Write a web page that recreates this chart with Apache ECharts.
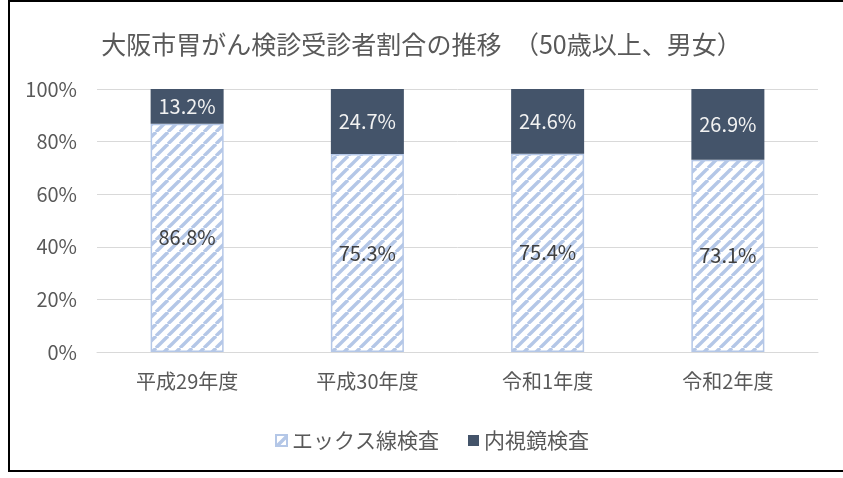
<!DOCTYPE html>
<html><head><meta charset="utf-8">
<script src="https://cdn.jsdelivr.net/npm/echarts@6/dist/echarts.min.js"></script>
<style>html,body{margin:0;padding:0;background:#fff}#c{width:843px;height:478px}</style>
</head><body><div id="c"></div>
<script>
const categories = ['平成29年度','平成30年度','令和1年度','令和2年度'];
const xray = [86.8, 75.3, 75.4, 73.1];
const endoscope = [13.2, 24.7, 24.6, 26.9];
const yTicks = [0, 20, 40, 60, 80, 100];
const seriesNames = ['エックス線検査','内視鏡検査'];
const titleText = '大阪市胃がん検診受診者割合の推移　（50歳以上、男女）';

const FONT = '"Noto Sans CJK JP","Noto Sans",sans-serif';
function hatch(){
  const s = 12;
  const c = document.createElement('canvas');
  c.width = s; c.height = s;
  const g = c.getContext('2d');
  g.fillStyle = '#ffffff'; g.fillRect(0,0,s,s);
  g.strokeStyle = '#b4c7e7'; g.lineWidth = 3.4;
  for (let k=-1;k<=1;k++){
    g.beginPath(); g.moveTo(k*s, s); g.lineTo(k*s+s, 0); g.stroke();
  }
  return c;
}
const pat = {image: hatch(), repeat: 'repeat'};
const chart = echarts.init(document.getElementById('c'), null, {renderer:'canvas'});
chart.setOption({
  animation:false,
  textStyle:{fontFamily:FONT},
  title:{text:titleText,left:'center',top:27,textStyle:{fontFamily:FONT,fontSize:25,fontWeight:'normal',color:'#595959'}},
  graphic:[{type:'polyline',shape:{points:[[850,1],[9,1],[9,471],[850,471]]},style:{stroke:'#000',lineWidth:2,fill:null},silent:true}],
  legend:{left:270,top:425,itemWidth:11,itemHeight:11,itemGap:29,
    textStyle:{fontFamily:FONT,fontSize:21,color:'#595959'},
    data:[{name:seriesNames[0],icon:'rect'},{name:seriesNames[1],icon:'rect'}]},
  grid:{left:97,right:25,top:89,bottom:126,containLabel:false},
  xAxis:{type:'category',data:categories,
    axisLine:{lineStyle:{color:'#d9d9d9',width:1}},axisTick:{show:false},
    axisLabel:{fontFamily:FONT,fontSize:20,color:'#595959',margin:19}},
  yAxis:{type:'value',min:0,max:100,interval:20,
    axisLabel:{formatter:v=>v+'%',fontFamily:FONT,fontSize:20,color:'#595959',margin:20},
    splitLine:{lineStyle:{color:'#d9d9d9'}},axisLine:{show:false},axisTick:{show:false}},
  series:[
    {name:seriesNames[0],type:'bar',stack:'a',barWidth:'40.5%',data:xray,
     itemStyle:{color:pat,borderColor:'#b4c7e7',borderWidth:1.5},
     label:{show:true,position:'inside',formatter:p=>p.value.toFixed(1)+'%',fontFamily:FONT,fontSize:20,color:'#404040'}},
    {name:seriesNames[1],type:'bar',stack:'a',data:endoscope,
     itemStyle:{color:'#44546a'},
     label:{show:true,position:'inside',formatter:p=>p.value.toFixed(1)+'%',fontFamily:FONT,fontSize:20,color:'#f2f2f2'}}
  ]
});
</script></body></html>
